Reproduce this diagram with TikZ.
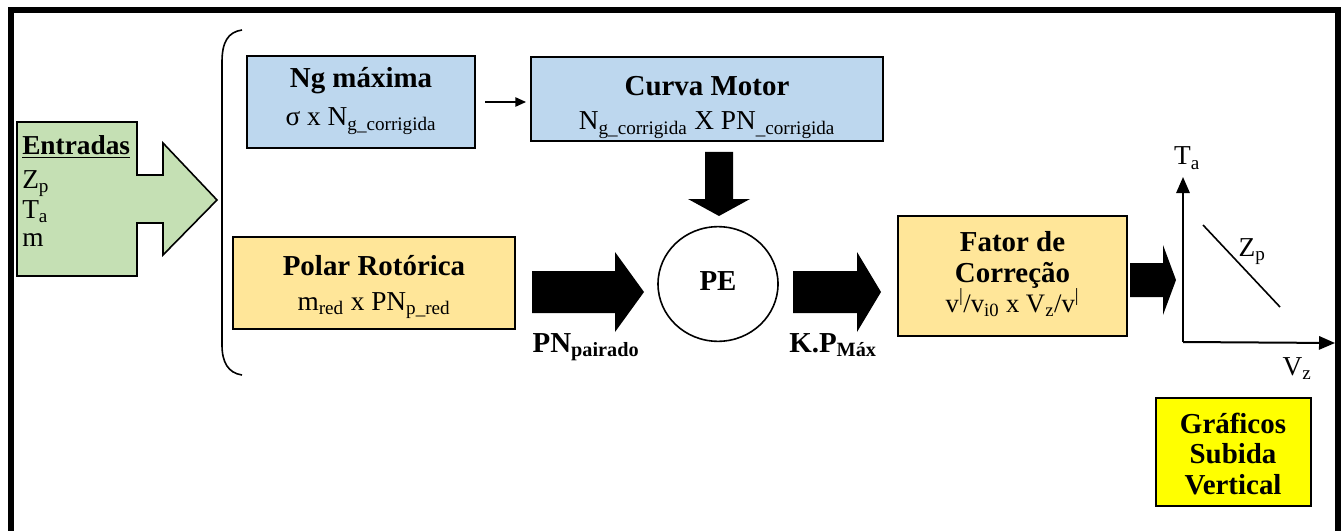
\documentclass[tikz,border=0pt]{standalone}
\usepackage{fontspec}
\setmainfont{Liberation Serif}
\usetikzlibrary{arrows.meta,positioning,shapes.geometric}

\definecolor{azul}{HTML}{BDD7EE}
\definecolor{laranja}{HTML}{FFE699}
\definecolor{verde}{HTML}{C5E0B4}
\definecolor{amarelo}{HTML}{FFFF00}

\newcommand{\titulo}{\bfseries\fontsize{21.7}{31}\selectfont}
\newcommand{\texto}{\normalfont\fontsize{20.5}{24}\selectfont}

\tikzset{
  bloco/.style={draw, line width=1.5pt, inner sep=0pt},
  tit/.style={anchor=base, inner sep=0pt, font=\titulo},
  sub/.style={anchor=base, inner sep=0pt, font=\texto},
  eixo/.style={line width=1.5pt, -{Triangle[length=12pt,width=10pt]}},
}

\begin{document}
\begin{tikzpicture}[x=0.75pt, y=-0.75pt]
	\useasboundingbox (0,0) rectangle (1344,531);
	\draw[line width=4pt] (11,531) -- (11,10) -- (1338,10) -- (1338,531);

	% entradas
	\draw[fill=verde, line width=1.2pt] (17,122) -- (137,122) -- (137,175) -- (163,175) -- (163,143)
	   -- (217,200) -- (163,255) -- (163,223) -- (137,223) -- (137,276) -- (17,276) -- cycle;
	\node[sub, anchor=base west, font=\bfseries\fontsize{20.5}{24}\selectfont] (ent) at (22,155) {\underline{Entradas}};
	\node[sub, anchor=base west] (zp) at (22,188) {Z\textsubscript{p}};
	\node[sub, anchor=base west] (ta0) at (22,218) {T\textsubscript{a}};
	\node[sub, anchor=base west] (m) at (22,246) {m};

	\draw[line width=1.2pt] (242,30) .. controls (228,32) and (222,42) .. (222,62) -- (222,345)
	   .. controls (222,362) and (228,373) .. (242,375);

	% blocos
	\node[bloco, fill=azul, minimum width=171pt, minimum height=69pt] (ng) at (361,102) {};
	\node[tit] (ng-t) at (361,88) {Ng máxima};
	\node[sub] (ng-s) at (361,126) {σ x N\textsubscript{g\_corrigida}};

	\node[bloco, fill=azul, minimum width=264pt, minimum height=63pt] (cm) at (707,99) {};
	\node[tit] (cm-t) at (707,96) {Curva Motor};
	\node[sub] (cm-s) at (707,130) {N\textsubscript{g\_corrigida} X PN\textsubscript{\_corrigida}};
	\draw[line width=1.2pt, -{Triangle[length=8pt,width=7pt]}, shorten <=7pt, shorten >=3pt]
	   (ng.east |- 0,102) -- (cm.west |- 0,102);

	\node[bloco, fill=laranja, minimum width=211.5pt, minimum height=69pt] (pr) at (374,283) {};
	\node[tit] (pr-t) at (374,275) {Polar Rotórica};
	\node[sub] (pr-s) at (374,310) {m\textsubscript{red} x PN\textsubscript{p\_red}};

	\node[draw, ellipse, line width=1.2pt, minimum width=90pt, minimum height=86pt] (pe) at (718,284) {};
	\node[tit] (pe-t) at (718,290) {PE};

	\node[bloco, fill=laranja, minimum width=171.75pt, minimum height=90pt] (fc) at (1012.5,276) {};
	\node[tit] (fc-t1) at (1012.5,251) {Fator de};
	\node[tit] (fc-t2) at (1012.5,282) {Correção};
	\node[sub, font=\normalfont\fontsize{20}{24}\selectfont] (fc-s) at (1012.5,312)
	   {v\textsuperscript{|}/v\textsubscript{i0} x V\textsubscript{z}/v\textsuperscript{|}};

	% setas grossas
	\fill[shift={(719,152)}] (-14,0) -- (14,0) -- (14,47) -- (31,47) -- (0,64) -- (-31,47) -- (-14,47) -- cycle;
	\fill[shift={(532,292)}] (0,-21) -- (83,-21) -- (83,-40) -- (112,0) -- (83,40) -- (83,21) -- (0,21) -- cycle;
	\fill[shift={(793,292)}] (0,-21) -- (64,-21) -- (64,-40) -- (88,0) -- (64,40) -- (64,21) -- (0,21) -- cycle;
	\fill[shift={(1130,280)}] (0,-17) -- (33,-17) -- (33,-35) -- (46,0) -- (33,35) -- (33,17) -- (0,17) -- cycle;

	\node[tit] (pn) at (586,352) {PN\textsubscript{pairado}};
	\node[tit] (kp) at (833,352) {K.P\textsubscript{Máx}};

	% grafico
	\coordinate (o) at (1183,342);
	\coordinate (ta) at (1183,177);
	\coordinate (vz) at (1335,343);
	\draw[eixo] (o) -- (ta);
	\draw[eixo] (o) -- (vz);
	\node[sub] (lta) at (1187,165) {T\textsubscript{a}};
	\node[sub] (lvz) at (1297,375) {V\textsubscript{z}};
	\draw[line width=1.2pt] (1203,225) -- (1280,307);
	\node[sub] (lzp) at (1252,256) {Z\textsubscript{p}};

	\node[bloco, fill=amarelo, minimum width=116.25pt, minimum height=81pt] (gr) at (1233,452) {};
	\node[tit] (gr-1) at (1233,433) {Gráficos};
	\node[tit] (gr-2) at (1233,463) {Subida};
	\node[tit] (gr-3) at (1233,494) {Vertical};
\end{tikzpicture}
\end{document}
